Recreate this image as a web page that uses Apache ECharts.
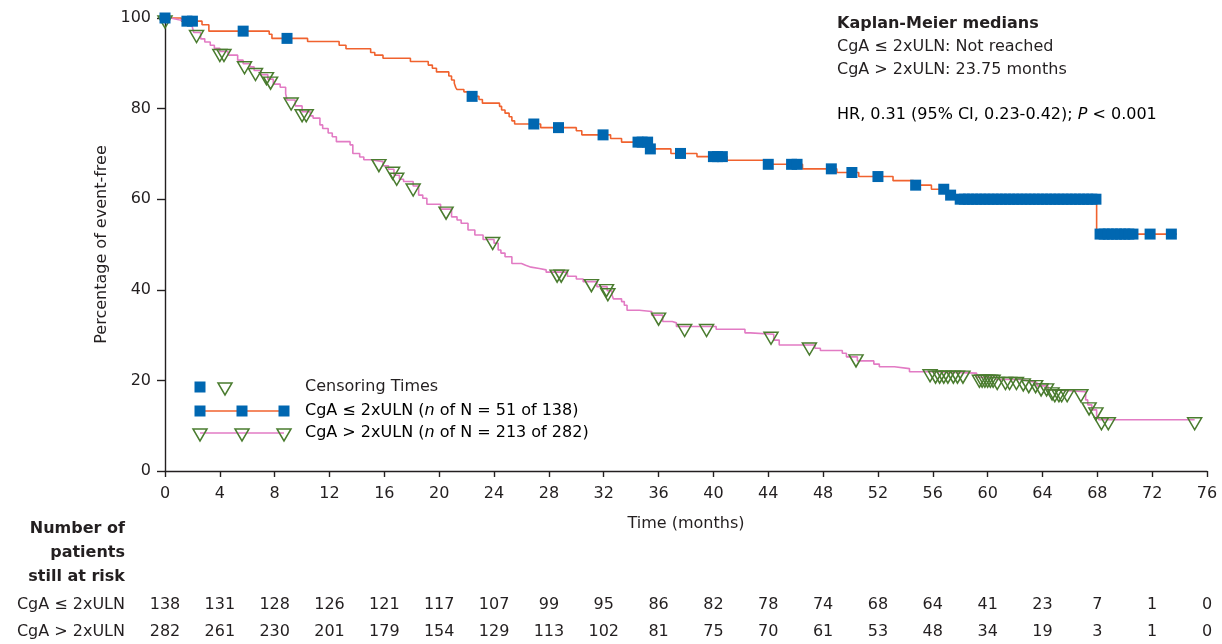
<!DOCTYPE html>
<html>
<head>
<meta charset="utf-8">
<script src="https://cdn.jsdelivr.net/npm/echarts@6/dist/echarts.min.js"></script>
<style>
html, body { margin: 0; padding: 0; background: #fff; }
#chart { width: 1222px; height: 644px; }
</style>
</head>
<body>
<div id="chart"></div>
<script>
var FONT = 'DejaVu Sans';
var TXT = '#231f20';

// CgA <= 2xULN : Kaplan-Meier steps (months, % event-free)
var lowTime = [0, 1.2, 2.7, 3.2, 7.6, 7.8, 10.4, 12.7, 13.2, 15.0, 15.3, 15.9, 17.9, 19.2, 19.5, 19.8,
    20.7, 20.9, 21.1, 21.2, 21.3, 21.8, 22.3, 22.9, 23.15, 24.4, 24.55, 24.8, 25.1, 25.3, 25.5,
    27.4, 30.0, 30.4, 32.5, 33.3, 35.3, 36.9, 38.8, 41.0, 43.7, 46.5, 49.0, 50.6, 53.1, 54.6,
    55.9, 57.1, 57.5, 67.95, 73.8];
var lowSurv = [100, 99.3, 98.5, 97.1, 96.4, 95.5, 94.8, 94.0, 93.2, 92.4, 91.8, 91.1, 90.4, 89.6, 88.9, 88.1,
    87.2, 86.3, 85.6, 84.7, 84.2, 83.7, 82.7, 82.0, 81.2, 80.5, 79.7, 79.0, 78.2, 77.3, 76.6,
    75.8, 75.1, 74.2, 73.4, 72.6, 71.1, 70.1, 69.4, 68.6, 67.7, 66.7, 65.9, 65.0, 64.1, 63.1,
    62.2, 60.9, 60.0, 52.3, 52.3];
var lowCensor = [0, 1.6, 2.0, 5.7, 8.9, 22.4, 26.9, 28.7, 31.95, 34.5, 34.8, 35.2, 35.4, 37.6,
    40.0, 40.3, 40.65, 44.0, 45.7, 46.1, 48.6, 50.1, 52.0, 54.75, 56.8, 57.3,
    58.0, 58.3, 58.6, 58.9, 59.2, 59.5, 59.8, 60.1, 60.4, 60.7, 61.0, 61.3, 61.6, 61.9, 62.2,
    62.5, 62.8, 63.1, 63.4, 63.7, 64.0, 64.3, 64.6, 64.9, 65.2, 65.5, 65.8, 66.1, 66.4, 66.7,
    67.0, 67.3, 67.6, 67.9, 68.2, 68.5, 68.8, 69.1, 69.4, 69.7, 70.0, 70.3, 70.6, 71.85, 73.4];

// CgA > 2xULN
var highTime = [0, 0.4, 1.0, 1.6, 2.0, 2.1, 2.6, 2.9, 3.3, 3.6, 4.0, 4.6, 5.3, 5.7, 6.2, 6.5, 7.0, 7.5,
    7.9, 8.4, 8.8, 8.9, 9.5, 10.0, 10.6, 10.8, 11.3, 11.5, 11.9, 12.2, 12.5, 13.5, 13.7, 14.2,
    14.5, 15.0, 15.9, 16.3, 16.7, 17.1, 17.4, 18.1, 18.5, 18.8, 19.1, 20.1, 20.9, 21.3, 21.6,
    22.1, 22.6, 23.2, 24.0, 24.3, 24.5, 24.8, 25.3, 26.0, 26.3, 26.7, 27.3, 27.8, 29.35, 30.0,
    30.5, 31.5, 32.25, 32.6, 32.7, 33.3, 33.5, 33.7, 34.6, 35.5, 36.3, 37.0, 37.3, 40.2, 42.3,
    42.7, 44.4, 44.8, 47.4, 47.8, 49.4, 49.7, 50.5, 51.7, 52.1, 53.2, 54.3, 55.9, 59.2, 60.6,
    62.4, 63.0, 63.6, 64.4, 64.9, 67.15, 67.3, 67.6, 67.95, 68.1, 75.1];
var highSurv = [100, 99.6, 99.3, 98.6, 97.9, 96.8, 95.4, 94.7, 94.0, 93.3, 92.6, 91.8, 90.7, 89.9, 89.2, 88.4, 87.5, 86.5,
    85.4, 84.7, 83.3, 81.9, 80.6, 79.3, 78.4, 77.9, 76.4, 75.6, 74.6, 73.8, 72.7, 72.0, 70.1, 69.3,
    68.7, 68.3, 67.4, 66.6, 65.3, 64.4, 63.9, 62.9, 60.9, 60.2, 58.9, 57.8, 56.1, 55.4, 54.7,
    53.2, 52.1, 51.1, 50.3, 48.8, 48.1, 47.3, 45.8, 45.4, 45.0, 44.7, 44.4, 43.9, 43.0, 42.4,
    41.8, 40.7, 39.8, 38.9, 38.0, 37.4, 36.6, 35.5, 35.2, 34.4, 33.0, 32.7, 31.9, 31.3, 30.5,
    30.2, 28.9, 27.8, 27.1, 26.6, 26.0, 25.2, 24.3, 23.6, 23.0, 22.6, 21.9, 21.6, 20.7, 20.2,
    19.9, 19.5, 18.8, 17.9, 17.5, 15.7, 14.6, 13.5, 12.0, 11.3, 11.3];
var highCensor = [0, 2.3, 4.0, 4.3, 5.8, 6.6, 7.4, 7.7, 9.2, 10.0, 10.3, 15.6, 16.6, 16.9, 18.1, 20.5,
    23.9, 28.6, 28.9, 31.1, 32.2, 32.3, 36.0, 37.9, 39.5, 44.2, 47.0, 50.4,
    55.8, 56.2, 56.5, 56.8, 57.1, 57.5, 57.8, 58.2, 59.4, 59.6, 59.8, 60.0, 60.2, 60.4, 60.7,
    61.3, 61.6, 62.1, 62.6, 63.0, 63.5, 63.9, 64.3, 64.7, 64.9, 65.2, 65.4, 65.8, 66.8, 67.4,
    67.9, 68.3, 68.8, 75.1];

// number at risk
var riskTicks = [0, 4, 8, 12, 16, 20, 24, 28, 32, 36, 40, 44, 48, 52, 56, 60, 64, 68, 72, 76];
var riskLow = [138, 131, 128, 126, 121, 117, 107, 99, 95, 86, 82, 78, 74, 68, 64, 41, 23, 7, 1, 0];
var riskHigh = [282, 261, 230, 201, 179, 154, 129, 113, 102, 81, 75, 70, 61, 53, 48, 34, 19, 3, 1, 0];

var lowLabel = 'CgA ≤ 2xULN';
var highLabel = 'CgA > 2xULN';

function pairs(ts, vs) {
    return ts.map(function (t, i) { return [t, vs[i]]; });
}
// value of the step curve at time t
function survAt(ts, vs, t) {
    var s = vs[0];
    for (var i = 0; i < ts.length; i++) {
        if (ts[i] <= t) s = vs[i];
    }
    return s;
}
function censorPts(cs, ts, vs) {
    return cs.map(function (t) { return [t, survAt(ts, vs, t)]; });
}

var ORANGE = '#f0622e', PINK = '#e27bc4', BLUE = '#0067b1', GREEN = '#4a7c2f';
var TRI = 'path://M0,0L14,0L7,12Z';

var chart = echarts.init(document.getElementById('chart'));
var option = {
    animation: false,
    backgroundColor: '#fff',
    textStyle: { fontFamily: FONT },
    grid: { left: 165, right: 15, top: 18, bottom: 173 },
    xAxis: {
        type: 'value', min: 0, max: 76, interval: 4,
        name: 'Time (months)', nameLocation: 'middle', nameGap: 45,
        nameTextStyle: { fontFamily: FONT, fontSize: 16, color: TXT },
        axisLine: { lineStyle: { color: TXT, width: 1.4 } },
        axisTick: { length: 6, lineStyle: { color: TXT, width: 1.4 } },
        axisLabel: { fontFamily: FONT, fontSize: 16, color: TXT, margin: 15 },
        splitLine: { show: false }
    },
    yAxis: {
        type: 'value', min: 0, max: 100, interval: 20,
        name: 'Percentage of event-free', nameLocation: 'middle', nameGap: 50, nameRotate: 90,
        nameTextStyle: { fontFamily: FONT, fontSize: 16, color: TXT },
        axisLine: { show: true, lineStyle: { color: TXT, width: 1.4 } },
        axisTick: { show: true, length: 8, lineStyle: { color: TXT, width: 1.4 } },
        axisLabel: { fontFamily: FONT, fontSize: 16, color: TXT, margin: 14 },
        splitLine: { show: false }
    },
    series: [
        {
            name: lowLabel, type: 'line', step: 'end', showSymbol: false, clip: false, z: 2,
            data: pairs(lowTime, lowSurv),
            lineStyle: { color: ORANGE, width: 1.6 }
        },
        {
            name: highLabel, type: 'line', step: 'end', showSymbol: false, clip: false, z: 2,
            data: pairs(highTime, highSurv),
            lineStyle: { color: PINK, width: 1.6 }
        },
        {
            name: 'censor low', type: 'scatter', clip: false, z: 4,
            symbol: 'rect', symbolSize: 11,
            itemStyle: { color: BLUE, opacity: 1 },
            data: censorPts(lowCensor, lowTime, lowSurv)
        },
        {
            name: 'censor high', type: 'scatter', clip: false, z: 3,
            symbol: TRI, symbolSize: [14, 12], symbolOffset: [0, 4],
            itemStyle: { color: 'rgba(0,0,0,0)', borderColor: GREEN, borderWidth: 1.5, opacity: 1 },
            data: censorPts(highCensor, highTime, highSurv)
        }
    ]
};
chart.setOption(option);

// texts and legend
var g = [];
function txt(x, y, s, extra) {
    var st = { x: x, y: y, text: s, fontFamily: FONT, fontSize: 16, fill: TXT, verticalAlign: 'middle' };
    for (var k in extra) st[k] = extra[k];
    g.push({ type: 'text', style: st, z: 10 });
}
var rich = {
    a: { fontFamily: FONT, fontSize: 16, color: TXT },
    i: { fontFamily: FONT, fontSize: 16, color: TXT, fontStyle: 'italic' }
};

txt(837, 24, 'Kaplan-Meier medians', { fontWeight: 'bold' });
txt(837, 47, lowLabel + ': Not reached');
txt(837, 70, highLabel + ': 23.75 months');
g.push({ type: 'text', z: 10, style: {
    x: 837, y: 115, verticalAlign: 'middle', rich: rich,
    text: '{a|HR, 0.31 (95% CI, 0.23-0.42); }{i|P}{a| < 0.001}'
}});

// legend
function sq(x, y) {
    g.push({ type: 'rect', z: 10, shape: { x: x - 5.5, y: y - 5.5, width: 11, height: 11 }, style: { fill: BLUE } });
}
function tri(x, y) {
    g.push({ type: 'polygon', z: 10, shape: { points: [[x - 7, y - 6], [x + 7, y - 6], [x, y + 6]] },
        style: { fill: 'none', stroke: GREEN, lineWidth: 1.5 } });
}
function seg(x1, x2, y, c) {
    g.push({ type: 'line', z: 9, shape: { x1: x1, y1: y, x2: x2, y2: y }, style: { stroke: c, lineWidth: 1.6 } });
}
sq(200, 387); tri(225, 389);
txt(305, 387, 'Censoring Times');
seg(200, 284, 411, ORANGE); sq(200, 411); sq(242, 411); sq(284, 411);
g.push({ type: 'text', z: 10, style: { x: 305, y: 411, verticalAlign: 'middle', rich: rich,
    text: '{a|' + lowLabel + ' (}{i|n}{a| of N = 51 of 138)}' } });
seg(200, 284, 433, PINK); tri(200, 435); tri(242, 435); tri(284, 435);
g.push({ type: 'text', z: 10, style: { x: 305, y: 433, verticalAlign: 'middle', rich: rich,
    text: '{a|' + highLabel + ' (}{i|n}{a| of N = 213 of 282)}' } });

// number at risk table
txt(125, 529, 'Number of', { fontWeight: 'bold', align: 'right' });
txt(125, 553, 'patients', { fontWeight: 'bold', align: 'right' });
txt(125, 577, 'still at risk', { fontWeight: 'bold', align: 'right' });
txt(125, 605, lowLabel, { align: 'right' });
txt(125, 632, highLabel, { align: 'right' });
riskTicks.forEach(function (t, i) {
    var px = chart.convertToPixel({ xAxisIndex: 0 }, t);
    txt(px, 605, String(riskLow[i]), { align: 'center' });
    txt(px, 632, String(riskHigh[i]), { align: 'center' });
});

chart.setOption({ graphic: g });
</script>
</body>
</html>
